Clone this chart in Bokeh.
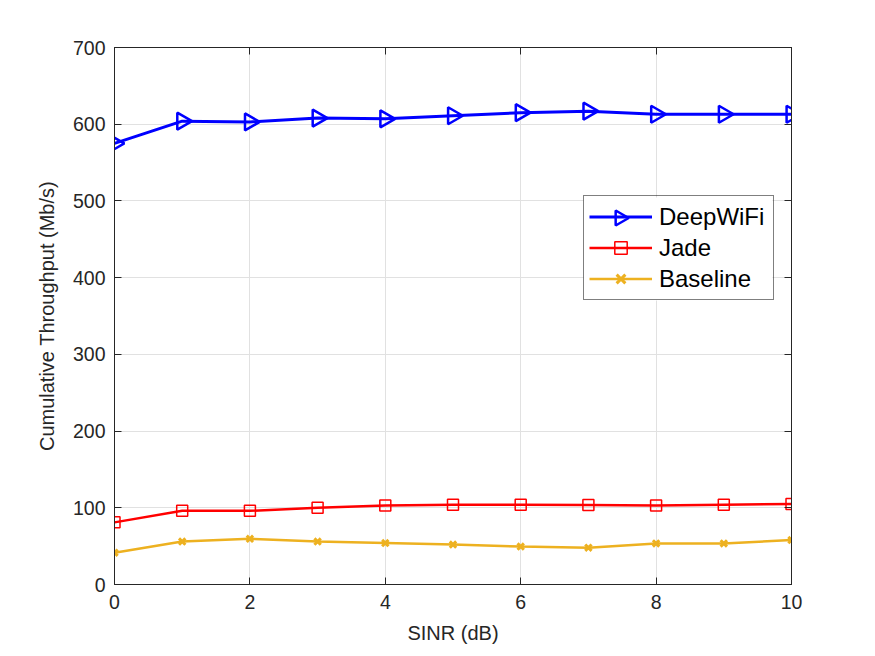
import numpy as np
from bokeh.plotting import figure
from bokeh.models import Range1d, FixedTicker, LinearAxis, Legend, LegendItem
from bokeh.embed import file_html
from bokeh.resources import INLINE

sinr = [0, 1, 2, 3, 4, 5, 6, 7, 8, 9, 10]
deepwifi = [575, 604, 603, 608, 607, 611, 615, 617, 613, 613, 613]
jade = [81, 96, 96, 100, 103, 104, 104, 103.5, 103, 104, 105]
baseline = [41.5, 56, 59.5, 56, 54, 52, 49.5, 48, 53.5, 53.5, 58]

x_ticks = [0, 2, 4, 6, 8, 10]
y_ticks = [0, 100, 200, 300, 400, 500, 600, 700]

FONT = "Liberation Sans"
TXT = "#262626"

W, H = 867, 648
BL, BR, BT, BB = 114, 76, 47, 64
X0, X1, Y0, Y1 = 0, 10, 0, 700

p = figure(width=W, height=H, output_backend="svg", toolbar_location=None,
           x_range=Range1d(X0, X1), y_range=Range1d(Y0, Y1),
           min_border_left=BL, min_border_right=BR, min_border_top=BT, min_border_bottom=BB)
p.background_fill_color = "white"
p.border_fill_color = "white"
p.outline_line_color = TXT
p.outline_line_width = 1

for ax, ticks in ((p.xaxis[0], x_ticks), (p.yaxis[0], y_ticks)):
    ax.ticker = FixedTicker(ticks=ticks)
    ax.major_tick_in = 7
    ax.major_tick_out = 0
    ax.minor_tick_line_color = None
    ax.axis_line_color = TXT
    ax.major_tick_line_color = TXT
    ax.major_label_text_font = FONT
    ax.major_label_text_font_size = "19.5px"
    ax.major_label_text_color = TXT
    ax.axis_label_text_font = FONT
    ax.axis_label_text_font_size = "20px"
    ax.axis_label_text_font_style = "normal"
    ax.axis_label_text_color = TXT

p.xaxis.axis_label = "SINR (dB)"
p.yaxis.axis_label = "Cumulative Throughput (Mb/s)"
p.xaxis.major_label_standoff = 10
p.yaxis.major_label_standoff = 9
p.xaxis.axis_label_standoff = 10
p.yaxis.axis_label_standoff = 12

# top and right box axes with inward ticks
top = LinearAxis(ticker=FixedTicker(ticks=x_ticks), major_tick_in=7, major_tick_out=0,
                 minor_tick_line_color=None, axis_line_color=TXT, major_tick_line_color=TXT,
                 major_label_overrides={t: "" for t in x_ticks}, major_label_standoff=0)
right = LinearAxis(ticker=FixedTicker(ticks=y_ticks), major_tick_in=7, major_tick_out=0,
                   minor_tick_line_color=None, axis_line_color=TXT, major_tick_line_color=TXT,
                   major_label_overrides={t: "" for t in y_ticks}, major_label_standoff=0)
p.add_layout(top, "above")
p.add_layout(right, "right")

p.xgrid.ticker = FixedTicker(ticks=x_ticks)
p.ygrid.ticker = FixedTicker(ticks=y_ticks)
p.grid.grid_line_color = "#e1e1e1"
p.grid.grid_line_width = 1

BLUE, RED, GOLD = "#0000FF", "#FF0000", "#EDB120"

# series
l1 = p.line(sinr, deepwifi, line_color=BLUE, line_width=3)
m1 = p.scatter(sinr, deepwifi, marker="triangle", angle=-np.pi / 2, size=17,
               fill_color=None, line_color=BLUE, line_width=2.5)
l2 = p.line(sinr, jade, line_color=RED, line_width=2.5)
m2 = p.scatter(sinr, jade, marker="square", size=11,
               fill_color=None, line_color=RED, line_width=1.5)
l3 = p.line(sinr, baseline, line_color=GOLD, line_width=2.5)
m3 = p.scatter(sinr, baseline, marker="x", size=9,
               line_color=GOLD, line_width=3)

# legend geometry (screen px, relative to frame bottom-left)
LEG_X, LEG_Y, PAD, ROW_H, GLYPH_W, STANDOFF, LABEL_W = 469, 284, 5, 31, 63, 7, 109

frame_w = W - BL - BR
frame_h = H - BT - BB
leg_h = 2 * PAD + 3 * ROW_H
leg_w = 2 * PAD + GLYPH_W + STANDOFF + LABEL_W
def dx(s):
    return X0 + s / frame_w * (X1 - X0)
def dy(s):
    return Y0 + s / frame_h * (Y1 - Y0)

# white legend background drawn as a glyph so the rotated marker can sit on it
p.quad(left=[dx(LEG_X)], right=[dx(LEG_X + leg_w)], bottom=[dy(LEG_Y)], top=[dy(LEG_Y + leg_h)],
       fill_color="white", line_color=None)
sx = LEG_X + PAD + GLYPH_W / 2
sy = LEG_Y + leg_h - PAD - ROW_H / 2
p.scatter([dx(sx)], [dy(sy)], marker="triangle", angle=-np.pi / 2, size=15,
          fill_color=None, line_color=BLUE, line_width=2.5)

legend = Legend(items=[LegendItem(label="DeepWiFi", renderers=[l1]),
                       LegendItem(label="Jade", renderers=[l2, m2]),
                       LegendItem(label="Baseline", renderers=[l3, m3])],
                location=(LEG_X, LEG_Y))
legend.label_text_font = FONT
legend.label_text_font_size = "24px"
legend.label_text_color = "black"
legend.border_line_color = "black"
legend.border_line_width = 1
legend.background_fill_alpha = 0
legend.glyph_width = GLYPH_W
legend.glyph_height = ROW_H
legend.label_height = ROW_H
legend.label_width = LABEL_W
legend.spacing = 0
legend.padding = PAD
legend.margin = 0
legend.label_standoff = STANDOFF
p.add_layout(legend, "center")

open("out.html", "w").write(file_html(p, INLINE))
